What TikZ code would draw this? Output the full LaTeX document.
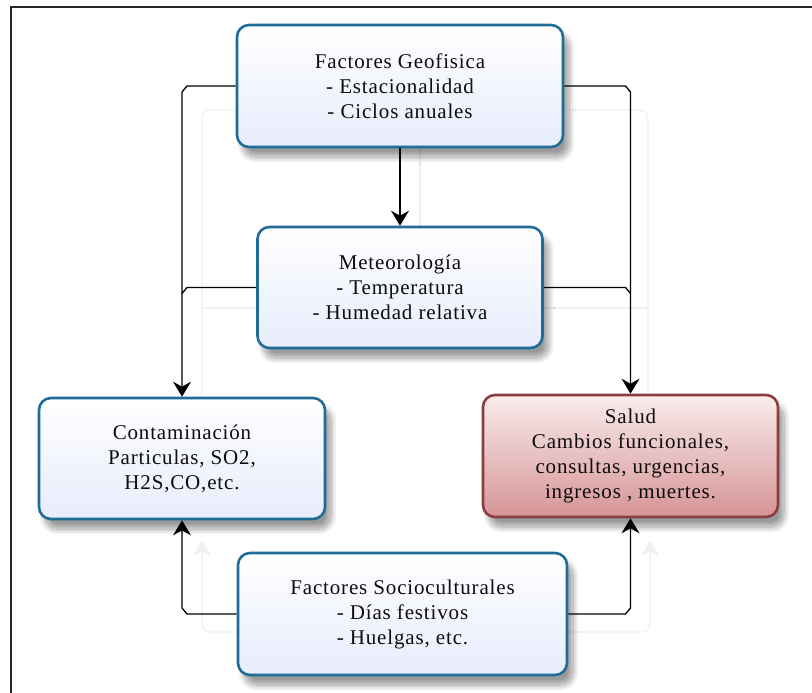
\documentclass[tikz,border=0pt]{standalone}
\usepackage{fontspec}
\setmainfont{Liberation Serif}[LetterSpace=4]
\usetikzlibrary{calc, arrows.meta, shadows.blur}

\definecolor{boxline}{RGB}{31,108,152}
\definecolor{boxfill}{RGB}{232,236,252}
\definecolor{redline}{RGB}{138,62,62}
\definecolor{redtop}{RGB}{250,236,236}
\definecolor{redbot}{RGB}{214,148,150}

\tikzset{
	factor/.style={draw=boxline, line width=2.6pt, rounded corners=12pt, top color=white, bottom color=boxfill,
		align=center, font=\fontsize{21}{25}\selectfont, text=black!95, inner sep=0pt,
		blur shadow={shadow xshift=6pt, shadow yshift=-10pt, shadow blur steps=12, shadow blur radius=6pt, shadow opacity=40}},
	effect/.style={factor, draw=redline, top color=redtop, bottom color=redbot},
	link/.style={line width=1.3pt, -{Stealth[length=15pt,width=18pt,inset=5pt]}},
	joint/.style={line width=1.3pt},
	ghost/.style={draw=black!6, line width=1.3pt, rounded corners=8pt}
}

\begin{document}
\begin{tikzpicture}[x=1pt,y=-1pt]
		\useasboundingbox (0,0) rectangle (812,693);
		\draw[line width=2pt, black!85] (812,7) -- (11,7) -- (11,693);
		
		% faint copy of the links
		\draw[ghost] (240,110) -- (202,110) -- (202,420);
		\draw[ghost] (560,110) -- (648,110) -- (648,420);
		\draw[ghost] (260,308) -- (202,308);
		\draw[ghost] (540,308) -- (648,308);
		\draw[ghost] (420,140) -- (420,230);
		\draw[ghost, -{Stealth[length=15pt,width=18pt,inset=5pt]}] (240,632) -- (202,632) -- (202,541);
		\draw[ghost, -{Stealth[length=15pt,width=18pt,inset=5pt]}] (565,632) -- (650,632) -- (650,541);
		
		\node[factor, minimum width=326pt, minimum height=122pt] (geo) at (400,86)
			{Factores Geofisica\\- Estacionalidad\\- Ciclos anuales};
		\node[factor, minimum width=285pt, minimum height=121pt] (meteo) at (400,287.5)
			{Meteorología\\- Temperatura\\- Humedad relativa};
		\node[factor, minimum width=286pt, minimum height=121pt] (contam) at (182,458.5)
			{Contaminación\\Particulas, SO2,\\H2S,CO,etc.};
		\node[effect, minimum width=295pt, minimum height=122pt] (salud) at (630.5,456)
			{Salud\\Cambios funcionales,\\consultas, urgencias,\\ingresos , muertes.};
		\node[factor, minimum width=329pt, minimum height=122pt] (socio) at (402.5,614)
			{Factores Socioculturales\\- Días festivos\\- Huelgas, etc.};
		
		\draw[link] (geo.south) -- (meteo.north);
		
		\draw[link] (geo.west) -- ($(contam.north |- geo.west)+(5,0)$) -- ($(contam.north |- geo.west)+(0,6)$) -- (contam.north);
		\draw[link] (geo.east) -- ($(salud.north |- geo.east)+(-5,0)$) -- ($(salud.north |- geo.east)+(0,6)$) -- (salud.north);
		
		\draw[joint] (meteo.west) -- ($(contam.north |- meteo.west)+(5,0)$) -- ($(contam.north |- meteo.west)+(0,6)$);
		\draw[joint] (meteo.east) -- ($(salud.north |- meteo.east)+(-5,0)$) -- ($(salud.north |- meteo.east)+(0,6)$);
		
		\draw[link] (socio.west) -- ($(contam.south |- socio.west)+(5,0)$) -- ($(contam.south |- socio.west)+(0,-6)$) -- (contam.south);
		\draw[link] (socio.east) -- ($(salud.south |- socio.east)+(-5,0)$) -- ($(salud.south |- socio.east)+(0,-6)$) -- (salud.south);
	\end{tikzpicture}
\end{document}
